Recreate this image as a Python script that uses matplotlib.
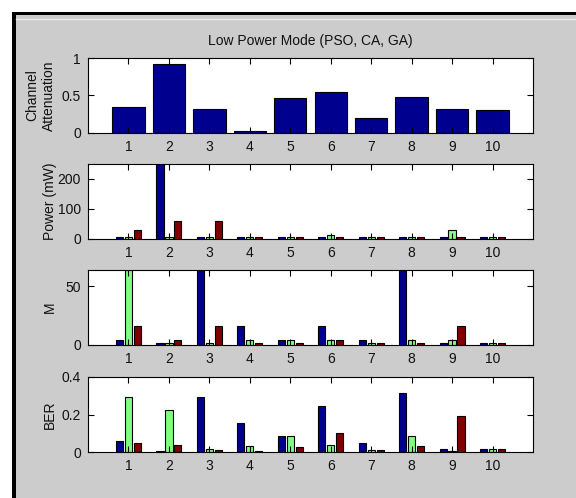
import matplotlib
matplotlib.use("Agg")
import matplotlib.pyplot as plt
import numpy as np
from matplotlib.patches import Rectangle
from matplotlib.lines import Line2D
from matplotlib import font_manager

names = {f.name for f in font_manager.fontManager.ttflist}
fam = 'Liberation Sans Narrow' if 'Liberation Sans Narrow' in names else 'Liberation Sans'
plt.rcParams['font.family'] = [fam, 'DejaVu Sans']

nodes = [1, 2, 3, 4, 5, 6, 7, 8, 9, 10]
attenuation = [0.34, 0.92, 0.32, 0.02, 0.46, 0.55, 0.20, 0.48, 0.32, 0.31]

power_pso = [6, 260, 6, 6, 6, 6, 6, 6, 6, 6]
power_ca = [6, 6, 6, 6, 6, 12, 6, 6, 30, 6]
power_ga = [29, 59, 59, 6, 6, 6, 6, 6, 6, 6]

m_pso = [4, 2, 64, 16, 4, 16, 4, 64, 2, 2]
m_ca = [64, 2, 2, 4, 4, 4, 2, 4, 4, 2]
m_ga = [16, 4, 16, 2, 2, 4, 2, 2, 16, 2]

ber_pso = [0.061, 0.003, 0.292, 0.155, 0.086, 0.243, 0.049, 0.317, 0.018, 0.018]
ber_ca = [0.292, 0.223, 0.018, 0.031, 0.086, 0.036, 0.012, 0.086, 0.003, 0.018]
ber_ga = [0.049, 0.038, 0.010, 0.003, 0.025, 0.104, 0.010, 0.031, 0.193, 0.018]

title = 'Low Power Mode (PSO, CA, GA)'
c_blue, c_green, c_red = '#00008F', '#80FF80', '#800000'

W, H = 576, 498
fig = plt.figure(figsize=(W / 100, H / 100), dpi=100, facecolor='white')

def px(x0, y0, w, h):
    return [x0 / W, 1 - (y0 + h) / H, w / W, h / H]

# window background / border
fig.add_artist(Rectangle((16 / W, 0), 1, 1 - 15 / H, transform=fig.transFigure,
                         facecolor='#CCCCCC', edgecolor='none', zorder=0))
fig.add_artist(Rectangle((12 / W, 0), 4 / W, 1 - 12 / H, transform=fig.transFigure,
                         facecolor='black', edgecolor='none', zorder=0))
fig.add_artist(Rectangle((12 / W, 1 - 15 / H), 1, 3 / H, transform=fig.transFigure,
                         facecolor='black', edgecolor='none', zorder=0))
fig.add_artist(Line2D([16 / W, 1], [1 - 19 / H, 1 - 19 / H], transform=fig.transFigure,
                      color='#EEEEEE', lw=1, zorder=0))

tops = [58, 164, 270, 377]
axes = [fig.add_axes(px(88, t, 445, 75)) for t in tops]

fs = 10
x = np.array(nodes)
off = 0.222
bw = 0.178

def style(ax, ylim, yticks, yticklabels, ylabel, two_line=False):
    ax.set_xlim(0, 11)
    ax.set_ylim(*ylim)
    ax.set_xticks(nodes)
    ax.set_xticklabels([str(n) for n in nodes], fontsize=fs)
    ax.set_yticks(yticks)
    ax.set_yticklabels(yticklabels, fontsize=fs)
    ax.tick_params(direction='in', length=4, width=0.8, top=True, right=True,
                   pad=5, color='black', labelcolor='#111111')
    for s in ax.spines.values():
        s.set_linewidth(0.8)
    ax.set_ylabel(ylabel, fontsize=fs, linespacing=1.25, color='#111111')
    ax.yaxis.label.set_va('center')
    ax.yaxis.set_label_coords((41 - 88) / 445 if two_line else (50 - 88) / 445, 0.5)
    ax.set_facecolor('white')

ax = axes[0]
ax.bar(x, attenuation, width=0.8, color=c_blue, edgecolor='black', linewidth=0.8)
style(ax, (0, 1), [0, 0.5, 1], ['0', '0.5', '1'], 'Channel\nAttenuation', True)
ax.set_title(title, fontsize=fs, pad=9, color='#111111')

def grouped(ax, a, b, c):
    for vals, o, col in ((a, -off, c_blue), (b, 0, c_green), (c, off, c_red)):
        ax.bar(x + o, vals, width=bw, color=col, edgecolor='black', linewidth=0.8)

grouped(axes[1], power_pso, power_ca, power_ga)
style(axes[1], (0, 250), [0, 100, 200], ['0', '100', '200'], 'Power (mW)')

grouped(axes[2], m_pso, m_ca, m_ga)
style(axes[2], (0, 64), [0, 50], ['0', '50'], 'M')

grouped(axes[3], ber_pso, ber_ca, ber_ga)
style(axes[3], (0, 0.4), [0, 0.2, 0.4], ['0', '0.2', '0.4'], 'BER')

fig.savefig('out.png', dpi=100, facecolor=fig.get_facecolor())
